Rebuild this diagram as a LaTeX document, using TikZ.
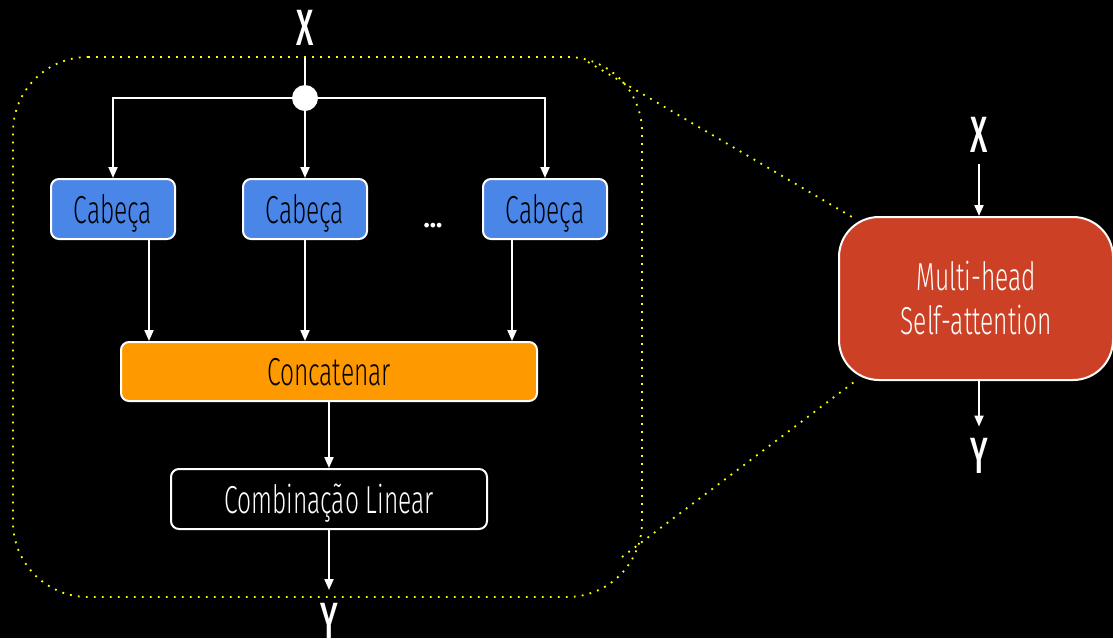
\documentclass[tikz,border=0pt]{standalone}
\usepackage{fontspec}
\setmainfont{Fira Sans}[FakeStretch=0.63, UprightFont={* Light}, BoldFont={* Bold}]
\newfontfamily\labelfont{Fira Sans}[FakeStretch=0.6, UprightFont={* Medium}]
\newfontfamily\dotfont{Fira Sans}[UprightFont={* Bold}]
\usetikzlibrary{arrows.meta}
\definecolor{headblue}{HTML}{4A86E8}
\definecolor{concatorange}{HTML}{FF9900}
\definecolor{mhred}{HTML}{CC4125}
\definecolor{dotyellow}{HTML}{FFFF00}
\begin{document}
\begin{tikzpicture}[x=1pt, y=-1pt,
  wire/.style={draw=white, line width=2pt},
  arr/.style={wire, -{Triangle[length=11pt,width=9pt]}},
  txt/.style={font=\fontsize{39}{44}\selectfont},
  lbl/.style={text=white, inner sep=0pt, font=\labelfont\fontsize{51}{51}\selectfont},
  box/.style={txt, draw=white, line width=2pt, rounded corners=8pt, inner sep=0pt,
              text height=28pt, text depth=0pt},
  headbox/.style={box, fill=headblue, text=black, minimum width=124pt, minimum height=60pt},
  concatbox/.style={box, fill=concatorange, text=black, minimum width=416pt, minimum height=59pt},
  linbox/.style={box, fill=black, text=white, minimum width=316pt, minimum height=60pt},
  mhbox/.style={txt, draw=white, line width=2pt, fill=mhred, text=white, rounded corners=40pt,
                minimum width=274pt, minimum height=163pt, align=center, inner sep=0pt},
  zoomdots/.style={draw=dotyellow, line width=1.8pt, dash pattern=on 1.8pt off 6.2pt}]

% background and page frame
\fill[black] (0,0) rectangle (1113,638);
\useasboundingbox (0,0) rectangle (1113,638);

% dotted outline of the expanded block
\draw[zoomdots, rounded corners=75pt] (13,57) -- (642,57) -- (642,597) -- (13,597) -- cycle;

% ---------- expanded multi-head block ----------
\node[lbl, anchor=base] (xin) at (305,45) {X};
\coordinate (xtop) at (305,57);
\node[circle, fill=white, minimum size=26pt, inner sep=0pt] (hub) at (305,98) {};

\node[headbox] (h1) at (113,209) {Cabeça};
\node[headbox] (h2) at (305,209) {Cabeça};
\node[headbox] (h3) at (545,209) {Cabeça};
\node[text=white, inner sep=0pt, font=\dotfont\fontsize{26}{26}\selectfont, anchor=base] (more) at (433,227) {...};

\node[concatbox] (concat) at (329,371.5) {Concatenar};
\node[linbox] (lin) at (329,499) {Combinação Linear};
\coordinate (yend) at (329,590);
\node[lbl, anchor=base] (yout) at (329,638) {Y};

\draw[wire] (xtop) -- (hub);
\draw[arr] (hub) -| (h1);
\draw[arr] (hub) -- (h2);
\draw[arr] (hub) -| (h3);

\coordinate (t1) at ([xshift=36pt]h1.south);
\coordinate (t3) at ([xshift=-33pt]h3.south);
\draw[arr] (t1) -- (t1 |- concat.north);
\draw[arr] (h2.south) -- (h2.south |- concat.north);
\draw[arr] (t3) -- (t3 |- concat.north);

\draw[arr] (concat) -- (lin);
\draw[arr] (lin) -- (yend);

% ---------- compact block ----------
\node[mhbox] (mh) at (976,298.5) {Multi-head\\Self-attention};
\node[lbl, anchor=base] (xr) at (979,152) {X};
\node[lbl, anchor=base] (yr) at (979,473) {Y};
\draw[arr] ([yshift=-12pt]xr.south) -- (xr.south |- mh.north);
\draw[arr] (mh.south -| yr.north) -- ([yshift=11pt]yr.north);

% zoom lines from the outline to the compact block
\coordinate (zt) at (588,62);
\coordinate (zb) at (622,557);
\coordinate (mt) at (852,217);
\coordinate (mb) at (858,379);
\draw[zoomdots] (zt) -- (mt);
\draw[zoomdots] (zb) -- (mb);
\end{tikzpicture}
\end{document}
